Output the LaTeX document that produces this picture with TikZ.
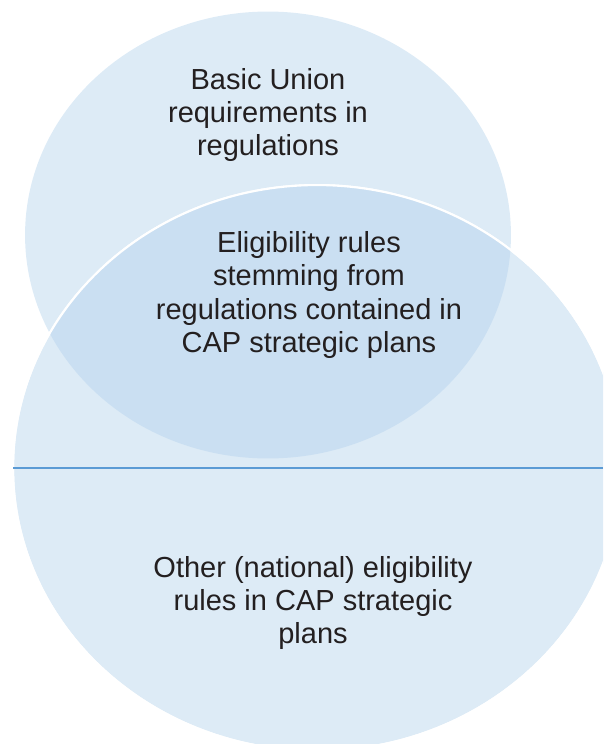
\documentclass[tikz,border=0pt]{standalone}
\usepackage{fontspec}
\setmainfont{Liberation Sans}
\usetikzlibrary{shapes.geometric, positioning}
\definecolor{setfill}{RGB}{221,235,246}
\definecolor{setoverlap}{RGB}{202,223,242}
\definecolor{divider}{RGB}{91,155,213}
\definecolor{textdark}{RGB}{35,31,32}
\tikzset{
  setshape/.style={ellipse, fill=setfill, inner sep=0pt, outer sep=0pt},
  setlabel/.style={text=textdark, align=center, inner sep=0pt,
                   font=\fontsize{16.5}{19}\selectfont}
}

\begin{document}
\begin{tikzpicture}[x=0.02cm, y=-0.02cm]
        \useasboundingbox (0, 0) rectangle (603, 744);
        \clip (0, 0) rectangle (603, 744);
        \node[setshape, minimum width=9.72cm, minimum height=8.94cm] (union) at (268, 235) {};
        \node[setshape, draw=white, line width=1.2pt,
              minimum width=12.16cm, minimum height=11.32cm] (plans) at (317, 468) {};
        % overlap of both sets
        \begin{scope}
          \clip (plans.center) ellipse [x radius=6.08cm, y radius=5.66cm];
          \fill[setoverlap] (union.center) ellipse [x radius=4.86cm, y radius=4.47cm];
        \end{scope}
        \draw[white, line width=1.2pt] (plans.center) ellipse [x radius=6.08cm, y radius=5.66cm];
        \coordinate (rim) at (603, 468);
        \draw[divider, line width=1.3pt] (plans.west) -- (plans.west -| rim);
        \node[setlabel] (basic) at (268, 115)
          {Basic Union\\requirements in\\regulations};
        \node[setlabel] (common) at (309, 295)
          {Eligibility rules\\stemming from\\regulations contained in\\CAP strategic plans};
        \node[setlabel] (national) at (313, 603)
          {Other (national) eligibility\\rules in CAP strategic\\plans};
      \end{tikzpicture}
\end{document}
